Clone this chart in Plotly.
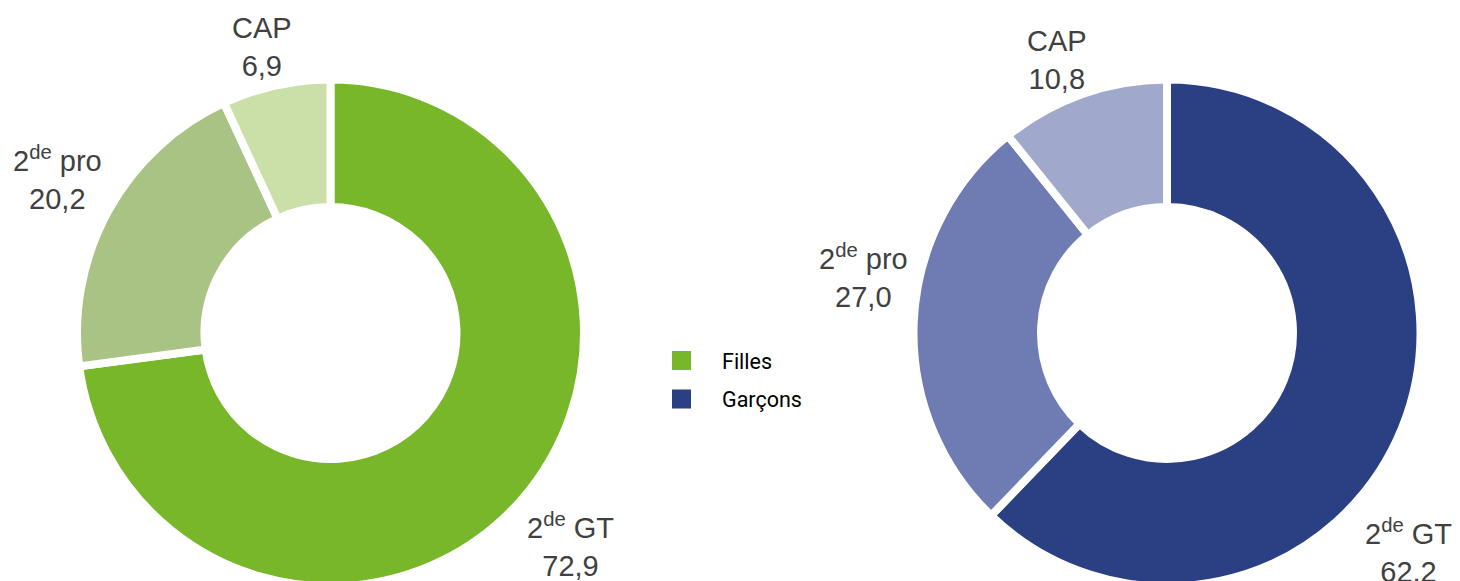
import plotly.graph_objects as go

# ---- data ----
categories = ["2<sup>de</sup> GT", "2<sup>de</sup> pro", "CAP"]
filles_values = [72.9, 20.2, 6.9]
garcons_values = [62.2, 27.0, 10.8]
series_names = ["Filles", "Garçons"]

filles_colors = ["#78b62a", "#a9c385", "#cbdfa8"]
garcons_colors = ["#2b3f83", "#6e7cb3", "#a0a8cc"]

W, H = 1460, 581
OFF = 8  # page body margin


def px_x(x):
    return (x - OFF) / W


def px_y(y):
    return 1 - (y - OFF) / H


def fmt(v):
    return f"{v:.1f}".replace(".", ",")


R = 253.5
HOLE = 0.497
centers = [(330.5, 333), (1167, 333)]

fig = go.Figure()

for vals, cols, nm, (cx, cy) in zip([filles_values, garcons_values],
                                    [filles_colors, garcons_colors],
                                    series_names, centers):
    fig.add_trace(go.Pie(
        labels=categories, values=vals, sort=False, direction="clockwise",
        rotation=0, hole=HOLE, textinfo="none", hoverinfo="label+value",
        marker=dict(colors=cols, line=dict(color="white", width=8)),
        domain=dict(x=[px_x(cx - R), px_x(cx + R)], y=[px_y(cy + R), px_y(cy - R)]),
        showlegend=False, name=nm,
    ))

# legend entries
for i, (nm, col) in enumerate(zip(series_names, [filles_colors[0], garcons_colors[0]])):
    fig.add_trace(go.Scatter(
        x=[None], y=[None], mode="markers", name=nm,
        marker=dict(symbol="square", size=16, color=col, line=dict(color=col, width=3)),
        legendgroup=f"g{i}",
    ))

# label positions (page pixel centres)
left_pos = [(570, 545), (57, 178), (262, 47)]
right_pos = [(1408, 551), (863, 276), (1057, 60)]

annotations = []
for vals, poss in [(filles_values, left_pos), (garcons_values, right_pos)]:
    for cat, v, (x, y) in zip(categories, vals, poss):
        annotations.append(dict(
            text=f"{cat}<br>{fmt(v)}", x=px_x(x), y=px_y(y), xref="paper", yref="paper",
            xanchor="center", yanchor="middle", showarrow=False, align="center",
            font=dict(family="Liberation Sans, Arial, sans-serif", size=29, color="#404040"),
        ))

fig.update_layout(
    width=W, height=H,
    margin=dict(l=0, r=0, t=0, b=0),
    paper_bgcolor="white", plot_bgcolor="white",
    xaxis=dict(visible=False), yaxis=dict(visible=False),
    annotations=annotations,
    showlegend=True,
    legend=dict(
        x=px_x(641), y=px_y(340), xanchor="left", yanchor="top",
        font=dict(family="Roboto, sans-serif", size=21.5, color="black"),
        itemwidth=71,
        tracegroupgap=7.5, bgcolor="rgba(0,0,0,0)",
    ),
)

fig.write_html("out.html")
